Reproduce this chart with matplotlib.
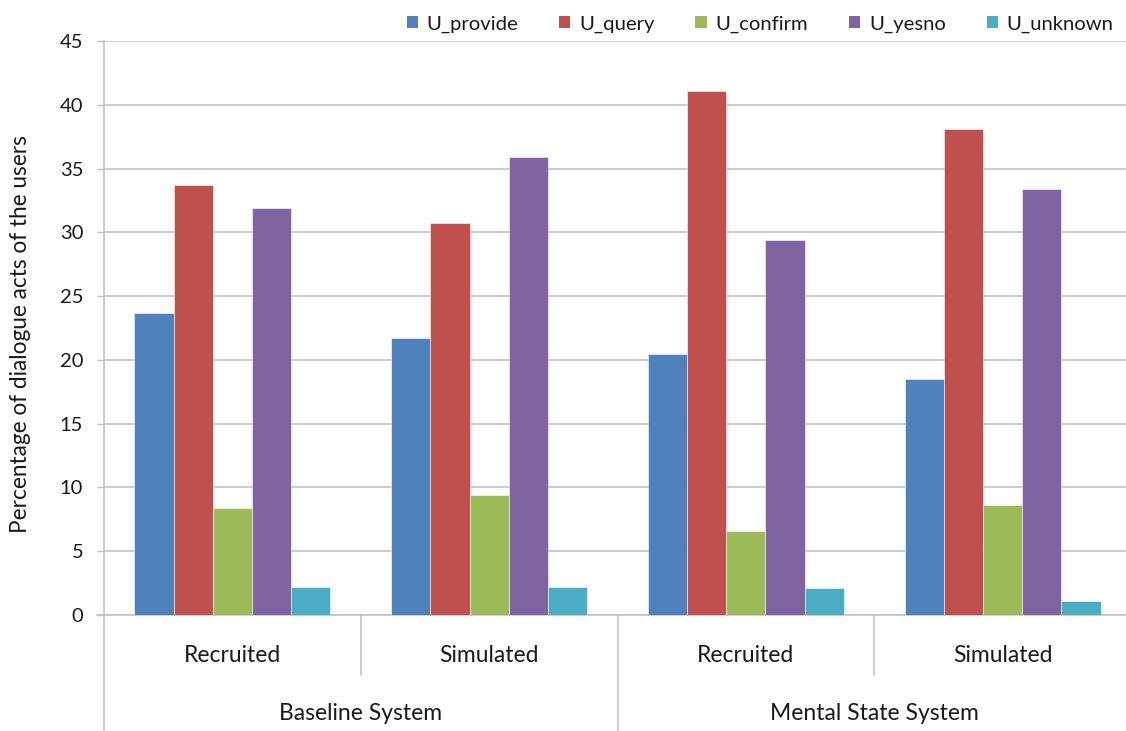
import matplotlib
matplotlib.use("Agg")
import matplotlib.pyplot as plt
import matplotlib.transforms as mtransforms
from matplotlib.lines import Line2D
from matplotlib.patches import Patch
import numpy as np

plt.rcParams['font.family'] = ['Lato', 'DejaVu Sans']

# Data
subgroups = ["Recruited", "Simulated", "Recruited", "Simulated"]
groups = ["Baseline System", "Mental State System"]
series_names = ["U_provide", "U_query", "U_confirm", "U_yesno", "U_unknown"]
u_provide = [23.7, 21.7, 20.5, 18.5]
u_query = [33.7, 30.7, 41.1, 38.1]
u_confirm = [8.4, 9.4, 6.6, 8.6]
u_yesno = [31.9, 35.9, 29.4, 33.4]
u_unknown = [2.2, 2.2, 2.1, 1.1]
series_values = [u_provide, u_query, u_confirm, u_yesno, u_unknown]
colors = ["#4F81BD", "#C0504D", "#9BBB59", "#8064A2", "#4BACC6"]
yticks = [0, 5, 10, 15, 20, 25, 30, 35, 40, 45]

TXT = "#1a1a1a"
GRID = "#bfbfbf"

W, H = 1126, 731
fig = plt.figure(figsize=(W / 100, H / 100), dpi=100)
ax_left, ax_right, ax_top, ax_bot = 104, 1131, 41, 615
ax = fig.add_axes([ax_left / W, 1 - ax_bot / H, (ax_right - ax_left) / W, (ax_bot - ax_top) / H])

x = np.arange(len(subgroups))
bw = 0.1525
for i, (name, vals, c) in enumerate(zip(series_names, series_values, colors)):
    ax.bar(x + (i - 2) * bw, vals, width=bw, color=c, edgecolor="white", linewidth=0.4,
           label=name, zorder=3)

ax.set_xlim(-0.5, len(subgroups) - 0.5)
ax.set_ylim(0, 45)
ax.set_yticks(yticks)
ax.set_yticklabels([str(t) for t in yticks], fontsize=14.5, color=TXT)
ax.yaxis.grid(True, color=GRID, linewidth=1.1, zorder=0)
ax.set_axisbelow(True)
ax.tick_params(axis="y", direction="out", length=5, width=1, color=GRID, pad=10)
ax.set_xticks([])
for s in ["top", "right"]:
    ax.spines[s].set_visible(False)
for s in ["left", "bottom"]:
    ax.spines[s].set_color(GRID)
    ax.spines[s].set_linewidth(1.1)

fig.text(21 / W, 1 - 334 / H, "Percentage of dialogue acts of the users", rotation=90,
         ha="center", va="center", fontsize=16.3, color=TXT)

# Hierarchical category axis below the plot
trans = mtransforms.blended_transform_factory(ax.transData, fig.transFigure)
for xi, lab in zip(x, subgroups):
    ax.text(xi, 1 - 655 / H, lab, transform=trans, ha="center", va="center",
            fontsize=16.5, color=TXT)
for gi, g in enumerate(groups):
    ax.text(2 * gi + 0.5, 1 - 714 / H, g, transform=trans, ha="center", va="center",
            fontsize=16.5, color=TXT)

y_axis = 1 - ax_bot / H
for xs in [0.5, 2.5]:
    fig.add_artist(Line2D([xs, xs], [y_axis, 1 - 675 / H], transform=trans,
                          color=GRID, linewidth=1.1))
for xs in [-0.5, 1.5, 3.5]:
    fig.add_artist(Line2D([xs, xs], [y_axis, 0], transform=trans,
                          color=GRID, linewidth=1.1))
# short extension of the baseline to the left of the axis
fig.add_artist(Line2D([97 / W, ax_left / W], [y_axis, y_axis], transform=fig.transFigure,
                      color=GRID, linewidth=1.1))

handles = [Patch(facecolor=c, edgecolor="none") for c in colors]
fig.legend(handles, series_names, loc="upper right", bbox_to_anchor=(1132 / W, 1 + 3 / H),
           ncol=5, frameon=False, fontsize=14.6, handlelength=0.55, handleheight=0.55,
           handletextpad=0.45, columnspacing=2.0, labelcolor=TXT)

fig.savefig("out.png", dpi=100)
